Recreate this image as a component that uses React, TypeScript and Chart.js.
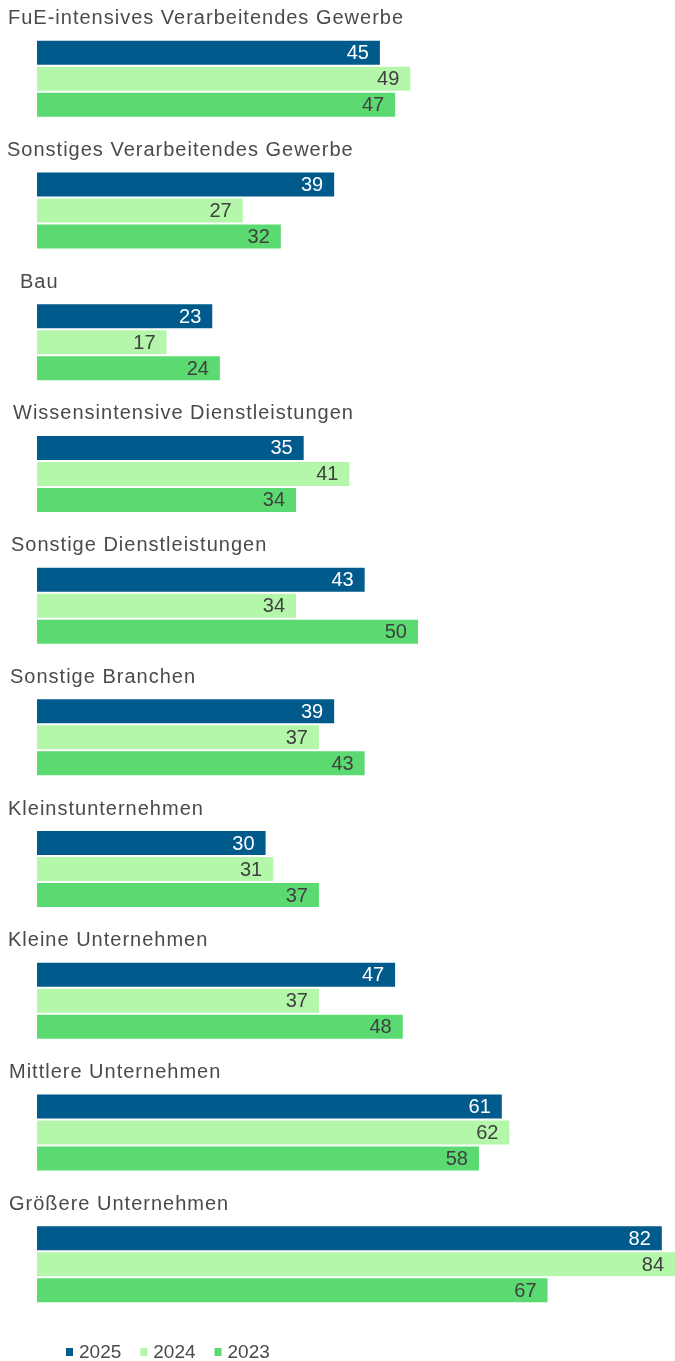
import React, { useEffect, useRef } from "react";
import { Chart, registerables } from "chart.js";

Chart.register(...registerables);

const categories = [
  "FuE-intensives Verarbeitendes Gewerbe",
  "Sonstiges Verarbeitendes Gewerbe",
  "Bau",
  "Wissensintensive Dienstleistungen",
  "Sonstige Dienstleistungen",
  "Sonstige Branchen",
  "Kleinstunternehmen",
  "Kleine Unternehmen",
  "Mittlere Unternehmen",
  "Größere Unternehmen",
];

const values2025 = [45, 39, 23, 35, 43, 39, 30, 47, 61, 82];
const values2024 = [49, 27, 17, 41, 34, 37, 31, 37, 62, 84];
const values2023 = [47, 32, 24, 34, 50, 43, 37, 48, 58, 67];

const seriesLabels = ["2025", "2024", "2023"];

const COLORS = ["#005A8C", "#B4F7AA", "#5ADA70"];
const VALUE_COLORS = ["#ffffff", "#404040", "#404040"];
const LABEL_INDENT = [8, 7, 20, 13, 11, 10, 8, 8, 9, 9];
const FONT = '"Liberation Sans", Arial, sans-serif';
const TEXT_COLOR = "#4a4a4a";

const overlayPlugin = {
  id: "overlay",
  afterDatasetsDraw(chart: any) {
    const ctx = chart.ctx;
    const yScale = chart.scales.y;
    ctx.save();
    // category labels above each group
    ctx.font = `20px ${FONT}`;
    (ctx as any).letterSpacing = "1px";
    ctx.fillStyle = TEXT_COLOR;
    ctx.textBaseline = "alphabetic";
    ctx.textAlign = "left";
    categories.forEach((c, i) => {
      const center = yScale.getPixelForValue(i);
      ctx.fillText(c, LABEL_INDENT[i], center - 39 - 15.5);
    });
    (ctx as any).letterSpacing = "0px";
    // value labels
    ctx.font = `20px ${FONT}`;
    ctx.textBaseline = "middle";
    chart.data.datasets.forEach((ds: any, di: number) => {
      const meta = chart.getDatasetMeta(di);
      ctx.fillStyle = VALUE_COLORS[di];
      ctx.textAlign = "right";
      meta.data.forEach((bar: any, i: number) => {
        const x = Math.min(bar.x, chart.chartArea.right);
        ctx.fillText(String(ds.data[i]), x - 11, bar.y + 1);
      });
    });
    // legend
    ctx.font = `19px ${FONT}`;
    ctx.textAlign = "left";
    let lx = 66;
    const ly = 1353;
    chart.data.datasets.forEach((ds: any) => {
      ctx.fillStyle = ds.backgroundColor;
      ctx.fillRect(lx, ly - 5, 7, 8);
      ctx.fillStyle = TEXT_COLOR;
      ctx.fillText(ds.label, lx + 13, ly);
      const w = ctx.measureText(ds.label).width;
      lx += 13 + w + 19;
    });
    ctx.restore();
  },
};

export default function App() {
  const ref = useRef<HTMLCanvasElement | null>(null);
  useEffect(() => {
    if (!ref.current) return;
    const chart = new Chart(ref.current, {
      type: "bar",
      data: {
        labels: categories,
        datasets: [values2025, values2024, values2023].map((d, i) => ({
          label: seriesLabels[i],
          data: d,
          backgroundColor: COLORS[i],
          borderWidth: 0,
          categoryPercentage: 78 / 131.67,
          barPercentage: 24 / 26,
        })),
      },
      options: {
        indexAxis: "y",
        animation: false,
        responsive: false,
        maintainAspectRatio: false,
        layout: { padding: { left: 37, right: 0, top: 13, bottom: 31 } },
        scales: {
          x: { display: false, min: 0, max: 83.73 },
          y: { display: false, offset: true },
        },
        plugins: {
          legend: { display: false },
          tooltip: { enabled: false },
        },
      },
      plugins: [overlayPlugin],
    });
    return () => chart.destroy();
  }, []);
  return (
    <div style={{ position: "absolute", left: 0, top: 0, width: 675, height: 1361, background: "#fff" }}>
      <canvas ref={ref} width={675} height={1361} style={{ width: 675, height: 1361, display: "block" }} />
    </div>
  );
}
